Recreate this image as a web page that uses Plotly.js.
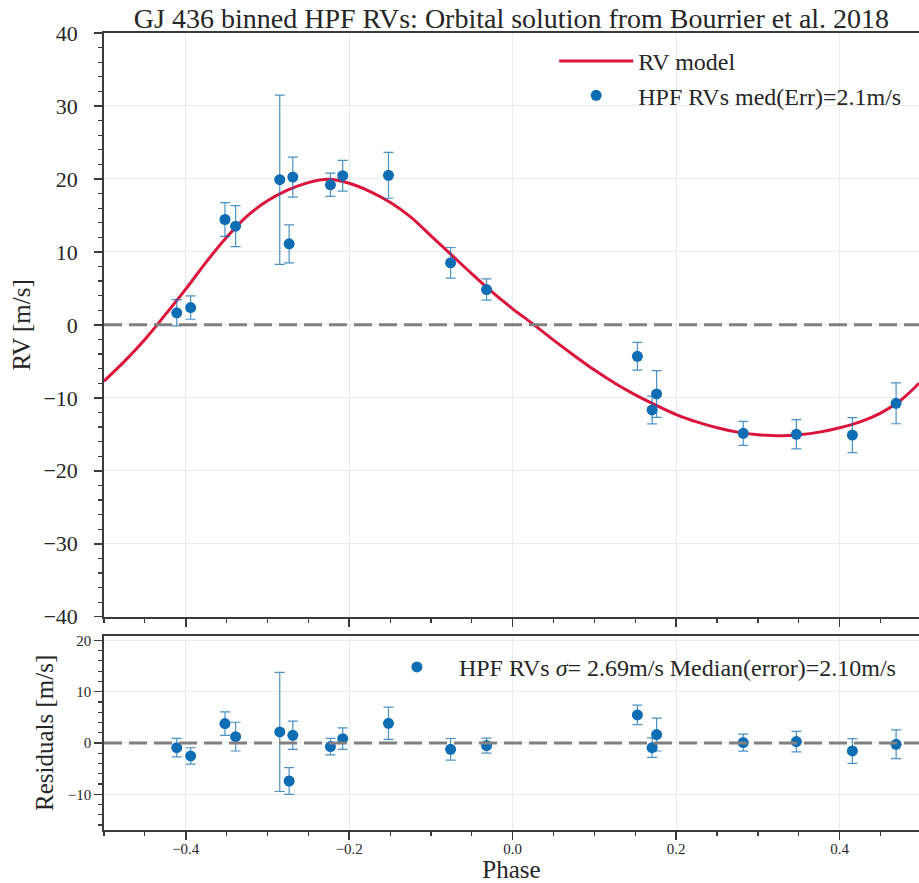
<!DOCTYPE html>
<html>
<head>
<meta charset="utf-8">
<script src="https://cdn.plot.ly/plotly-3.0.1.min.js"></script>
<style>html,body{margin:0;padding:0;background:#fff;}#chart{width:919px;height:883px;}</style>
</head>
<body>
<div id="chart"></div>
<script>
// Binned HPF RVs (phase-folded)
const phase = [-0.411, -0.394, -0.352, -0.339, -0.285, -0.269, -0.2735, -0.223, -0.208, -0.152, -0.076, -0.032, 0.1525, 0.1705, 0.176, 0.282, 0.347, 0.4155, 0.469];
const rv    = [1.65, 2.37, 14.44, 13.53, 19.89, 20.25, 11.1, 19.2, 20.44, 20.5, 8.5, 4.84, -4.31, -11.66, -9.47, -14.87, -15.0, -15.1, -10.75];
const rvErr = [1.8, 1.6, 2.3, 2.8, 11.6, 2.75, 2.6, 1.6, 2.1, 3.15, 2.1, 1.45, 1.9, 1.9, 3.2, 1.65, 2.0, 2.4, 2.8];
const resid = [-0.91, -2.53, 3.77, 1.23, 2.14, 1.49, -7.41, -0.71, 0.84, 3.83, -1.23, -0.52, 5.46, -0.91, 1.63, 0.07, 0.26, -1.56, -0.26];

// RV model curve
const modelPhase = [-0.500, -0.475, -0.450, -0.425, -0.400, -0.375, -0.350, -0.325, -0.300, -0.275, -0.250, -0.225, -0.200, -0.175, -0.150, -0.125, -0.100, -0.075, -0.050, -0.025, 0.000, 0.025, 0.050, 0.075, 0.100, 0.125, 0.150, 0.175, 0.200, 0.225, 0.250, 0.275, 0.300, 0.325, 0.350, 0.375, 0.400, 0.425, 0.450, 0.475, 0.497];
const modelRV    = [-7.7, -5.0, -2.0, 1.4, 4.9, 8.6, 12.0, 14.9, 17.0, 18.5, 19.5, 19.95, 19.4, 18.3, 16.8, 14.8, 12.2, 9.6, 7.0, 4.5, 2.2, 0.1, -2.1, -4.2, -6.2, -8.0, -9.6, -11.0, -12.3, -13.3, -14.1, -14.7, -15.05, -15.2, -15.05, -14.7, -14.1, -13.3, -12.1, -10.3, -8.0];

const titleText = 'GJ 436 binned HPF RVs: Orbital solution from Bourrier et al. 2018';
const modelName = 'RV model';
const rvName = 'HPF RVs med(Err)=2.1m/s';
const residName = 'HPF RVs <i>σ</i>= 2.69m/s Median(error)=2.10m/s';

const FONT = 'Liberation Serif, Times New Roman, serif';
const TXT = '#262626';
const AX = '#3a3a3a';
const BLUE = '#0f6db3';
const EBLUE = 'rgba(15,109,179,0.75)';

const traces = [
  {x: modelPhase, y: modelRV, type: 'scatter', mode: 'lines', name: modelName,
   line: {color: '#dc143c', width: 3, shape: 'spline', smoothing: 1},
   xaxis: 'x', yaxis: 'y', legend: 'legend'},
  {x: phase, y: rv, type: 'scatter', mode: 'markers', name: rvName,
   marker: {color: BLUE, size: 11},
   error_y: {type: 'data', array: rvErr, visible: true, color: EBLUE, thickness: 1.2, width: 5},
   xaxis: 'x', yaxis: 'y', legend: 'legend'},
  {x: phase, y: resid, type: 'scatter', mode: 'markers', name: residName,
   marker: {color: BLUE, size: 11},
   error_y: {type: 'data', array: rvErr, visible: true, color: EBLUE, thickness: 1.2, width: 5},
   xaxis: 'x2', yaxis: 'y2', legend: 'legend2'}
];

const common = {
  showline: true, linecolor: AX, linewidth: 1.8, mirror: true,
  ticks: 'outside', ticklen: 8, tickwidth: 1.5, tickcolor: AX,
  showgrid: true, gridcolor: '#ebebeb', gridwidth: 1, zeroline: false
};

const layout = {
  width: 919, height: 883,
  margin: {l: 104, r: 0, t: 33, b: 53},
  paper_bgcolor: '#ffffff', plot_bgcolor: '#ffffff',
  font: {family: FONT, color: TXT},
  showlegend: true,
  title: {text: titleText, font: {family: FONT, size: 28, color: TXT},
          x: 0.5, xref: 'paper', y: 1 - 18/883, yref: 'container', yanchor: 'middle'},
  xaxis: Object.assign({}, common, {
    domain: [0, 1], anchor: 'y', range: [-0.5, 0.497], dtick: 0.2, tick0: 0,
    showticklabels: false, mirror: true,
    minor: {dtick: 0.05, ticks: 'outside', ticklen: 4, tickwidth: 1.2, tickcolor: AX, showgrid: false}
  }),
  yaxis: Object.assign({}, common, {
    domain: [0.2676, 1], anchor: 'x', range: [-40, 40], dtick: 10, tick0: 0, mirror: false,
    tickfont: {family: FONT, size: 22, color: TXT}, ticklabelstandoff: 12,
    title: {text: 'RV [m/s]', font: {family: FONT, size: 25, color: TXT}, standoff: 6},
    minor: {dtick: 2, ticks: 'outside', ticklen: 4, tickwidth: 1.2, tickcolor: AX, showgrid: false}
  }),
  xaxis2: Object.assign({}, common, {
    domain: [0, 1], anchor: 'y2', range: [-0.5, 0.497], dtick: 0.2, tick0: 0,
    tickformat: '.1f', mirror: true, ticklabelstandoff: -4,
    tickfont: {family: FONT, size: 15, color: TXT},
    title: {text: 'Phase', font: {family: FONT, size: 25, color: TXT}, standoff: 2},
    minor: {dtick: 0.05, ticks: 'outside', ticklen: 4, tickwidth: 1.2, tickcolor: AX, showgrid: false}
  }),
  yaxis2: Object.assign({}, common, {
    domain: [0, 0.2438], anchor: 'x2', range: [-16.96, 20.9], dtick: 10, tick0: 0, mirror: false,
    tickfont: {family: FONT, size: 15, color: TXT},
    title: {text: 'Residuals [m/s]', font: {family: FONT, size: 25, color: TXT}, standoff: 7},
    minor: {dtick: 2, ticks: 'outside', ticklen: 4, tickwidth: 1.2, tickcolor: AX, showgrid: false}
  }),
  legend: {x: 0.5524, xanchor: 'left', y: 0.9925, yanchor: 'top',
           bgcolor: 'rgba(0,0,0,0)', borderwidth: 0, itemwidth: 74,
           font: {family: FONT, size: 24, color: TXT}},
  legend2: {x: 0.3324, xanchor: 'left', y: 0.2323, yanchor: 'top',
            bgcolor: 'rgba(0,0,0,0)', borderwidth: 0, itemwidth: 74,
            font: {family: FONT, size: 24, color: TXT}},
  shapes: [
    {type: 'line', xref: 'paper', x0: 0, x1: 1, yref: 'y', y0: 0, y1: 0, layer: 'above',
     line: {color: '#808080', width: 3, dash: '18px,7px'}},
    {type: 'line', xref: 'paper', x0: 0, x1: 1, yref: 'y2', y0: 0, y1: 0, layer: 'above',
     line: {color: '#808080', width: 3, dash: '18px,7px'}}
  ]
};

Plotly.newPlot('chart', traces, layout, {displayModeBar: false, staticPlot: true});
</script>
</body>
</html>
